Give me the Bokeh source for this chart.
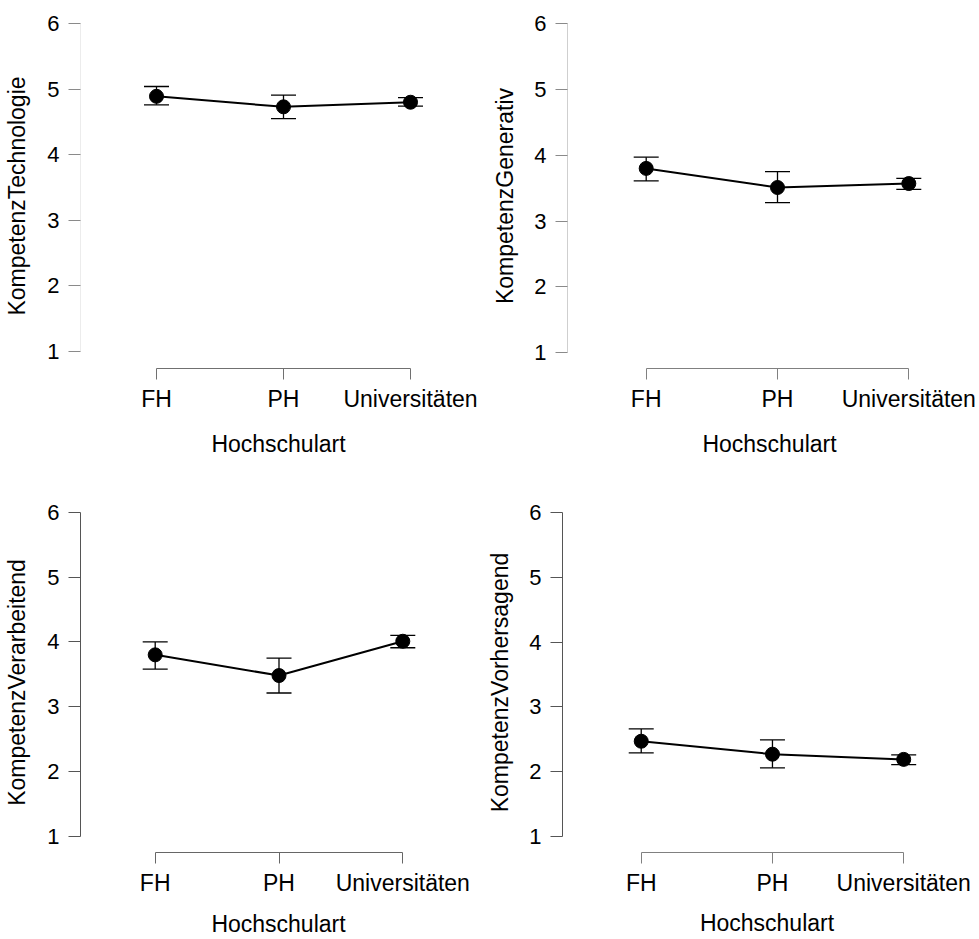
from bokeh.plotting import figure
from bokeh.models import ColumnDataSource, FixedTicker, Whisker, TeeHead, Range1d
from bokeh.layouts import column, row
from bokeh.embed import file_html
from bokeh.resources import INLINE

categories = ["FH", "PH", "Universitäten"]
x_title = "Hochschulart"

# KompetenzTechnologie
tech_mean = [4.89, 4.73, 4.80]
tech_lower = [4.76, 4.55, 4.74]
tech_upper = [5.04, 4.91, 4.87]

# KompetenzGenerativ
gen_mean = [3.80, 3.51, 3.57]
gen_lower = [3.61, 3.28, 3.48]
gen_upper = [3.97, 3.75, 3.65]

# KompetenzVerarbeitend
ver_mean = [3.80, 3.48, 4.01]
ver_lower = [3.58, 3.21, 3.91]
ver_upper = [4.00, 3.75, 4.10]

# KompetenzVorhersagend
vor_mean = [2.47, 2.27, 2.19]
vor_lower = [2.29, 2.06, 2.11]
vor_upper = [2.66, 2.49, 2.26]

y_ticks = [1, 2, 3, 4, 5, 6]

FONT = "Liberation Sans"
FS = "23px"
FS_Y = "22px"


def panel(ylabel, mean, lower, upper, width, height, left, top, y1_px, x1_px, xunit,
          bracket_px, yaxis_color, tick_color, xaxis_color, title_standoff, ytitle_standoff):
    yunit = (y1_px - top) / 5.0
    ystart = 1 - (bracket_px - y1_px) / yunit
    right = 8
    frame_w = width - left - right
    xstart = 1 - (x1_px - left) / xunit
    xend = xstart + frame_w / xunit
    p = figure(width=width, height=height, output_backend="svg", toolbar_location=None,
               x_range=Range1d(xstart, xend), y_range=Range1d(ystart, 6),
               min_border_left=int(round(left)), min_border_top=int(round(top)),
               min_border_right=right, min_border_bottom=height - int(round(bracket_px)))
    p.outline_line_color = None
    p.xgrid.visible = False
    p.ygrid.visible = False
    p.background_fill_color = "white"
    p.border_fill_color = "white"

    xs = list(range(1, len(categories) + 1))
    src = ColumnDataSource(dict(x=xs, m=mean, lo=lower, up=upper))
    w = Whisker(base="x", lower="lo", upper="up", source=src, line_color="black", line_width=1.3,
                upper_head=TeeHead(size=25, line_color="black", line_width=1.3),
                lower_head=TeeHead(size=25, line_color="black", line_width=1.3))
    p.add_layout(w)
    p.line("x", "m", source=src, line_color="black", line_width=2)
    p.scatter("x", "m", source=src, size=14, fill_color="black", line_color="black")

    ya = p.yaxis[0]
    ya.ticker = FixedTicker(ticks=y_ticks)
    ya.bounds = (1, 6)
    ya.axis_line_color = yaxis_color
    ya.major_tick_line_color = tick_color
    ya.major_tick_out = 12
    ya.major_tick_in = 0
    ya.minor_tick_line_color = None
    ya.major_label_text_font = FONT
    ya.major_label_text_font_size = FS_Y
    ya.major_label_text_color = "black"
    ya.major_label_standoff = 9
    ya.axis_label = ylabel
    ya.axis_label_text_font = FONT
    ya.axis_label_text_font_size = FS
    ya.axis_label_text_font_style = "normal"
    ya.axis_label_text_color = "black"
    ya.axis_label_standoff = ytitle_standoff

    xa = p.xaxis[0]
    xa.ticker = FixedTicker(ticks=xs)
    xa.major_label_overrides = {i + 1: c for i, c in enumerate(categories)}
    xa.bounds = (1, len(categories))
    xa.axis_line_color = xaxis_color
    xa.major_tick_line_color = xaxis_color
    xa.major_tick_out = 11
    xa.major_tick_in = 0
    xa.minor_tick_line_color = None
    xa.major_label_text_font = FONT
    xa.major_label_text_font_size = FS
    xa.major_label_text_color = "black"
    xa.major_label_standoff = 6
    xa.axis_label = x_title
    xa.axis_label_text_font = FONT
    xa.axis_label_text_font_size = FS
    xa.axis_label_text_font_style = "normal"
    xa.axis_label_text_color = "black"
    xa.axis_label_standoff = title_standoff
    return p


# top row: page y 0..465, bottom row: page y 465..939; left col x 0..484, right col 484..979
p1 = panel("KompetenzTechnologie", tech_mean, tech_lower, tech_upper,
           width=484, height=465, left=80, top=21, y1_px=351, x1_px=156, xunit=127,
           bracket_px=368, yaxis_color="#ececec", tick_color="#8a8a8a", xaxis_color="#707070",
           title_standoff=16, ytitle_standoff=14)
p2 = panel("KompetenzGenerativ", gen_mean, gen_lower, gen_upper,
           width=495, height=465, left=83, top=22.7, y1_px=352.3, x1_px=161.7, xunit=131.3,
           bracket_px=368, yaxis_color="#cfcfcf", tick_color="#8a8a8a", xaxis_color="#808080",
           title_standoff=16, ytitle_standoff=13)
p3 = panel("KompetenzVerarbeitend", ver_mean, ver_lower, ver_upper,
           width=484, height=474, left=80, top=47.3, y1_px=375, x1_px=154.7, xunit=123.8,
           bracket_px=391.7, yaxis_color="#555555", tick_color="#555555", xaxis_color="#666666",
           title_standoff=12, ytitle_standoff=14)
p4 = panel("KompetenzVorhersagend", vor_mean, vor_lower, vor_upper,
           width=495, height=474, left=75, top=23.3, y1_px=375.3, x1_px=154.3, xunit=132.2,
           bracket_px=392.7, yaxis_color="#555555", tick_color="#555555", xaxis_color="#808080",
           title_standoff=11, ytitle_standoff=13)

layout = column(row(p1, p2), row(p3, p4))
open("out.html", "w").write(file_html(layout, INLINE))
